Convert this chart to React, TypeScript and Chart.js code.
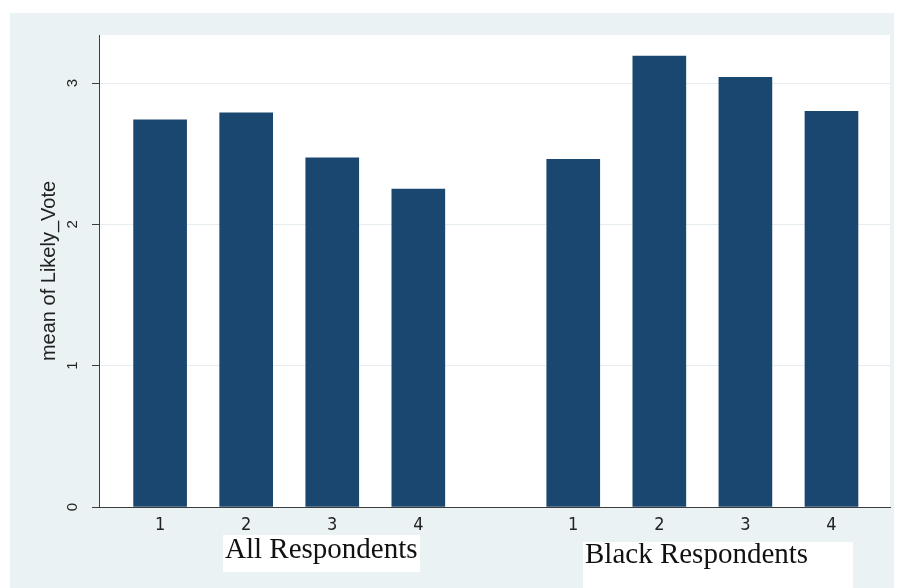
import React, { useEffect, useRef } from "react";
import { Chart, registerables } from "chart.js";

Chart.register(...registerables);

const groupLabels = ["All Respondents", "Black Respondents"];
const categories = ["1", "2", "3", "4"];
const allValues = [2.74, 2.79, 2.47, 2.25];
const blackValues = [2.46, 3.19, 3.04, 2.8];
const allPositions = [1, 2, 3, 4];
const blackPositions = [5.8, 6.8, 7.8, 8.8];
const yTicks = [0, 1, 2, 3];
const yTitle = "mean of Likely_Vote";

const BAR = "#1a476f";
const BG = "#eaf2f3";

const bgPlugin = {
  id: "stataBg",
  beforeDraw(chart: any) {
    const { ctx, chartArea } = chart;
    ctx.save();
    ctx.fillStyle = "#ffffff";
    ctx.fillRect(0, 0, chart.width, chart.height);
    ctx.fillStyle = BG;
    ctx.fillRect(10, 13, 884, chart.height - 13);
    ctx.fillStyle = "#ffffff";
    ctx.fillRect(chartArea.left, chartArea.top, chartArea.right - chartArea.left, chartArea.bottom - chartArea.top);
    ctx.restore();
  },
};

const groupLabelPlugin = {
  id: "groupLabels",
  afterDraw(chart: any) {
    const { ctx } = chart;
    ctx.save();
    ctx.fillStyle = "#ffffff";
    ctx.fillRect(223, 535, 197, 37);
    ctx.fillRect(583, 542, 270, 46);
    ctx.fillStyle = "#111111";
    ctx.font = "29px 'Liberation Serif', 'Times New Roman', serif";
    ctx.textBaseline = "alphabetic";
    ctx.textAlign = "left";
    ctx.fillText(groupLabels[0], 225, 558);
    ctx.fillText(groupLabels[1], 585, 563);
    ctx.restore();
  },
};

export default function App() {
  const ref = useRef<HTMLCanvasElement | null>(null);

  useEffect(() => {
    if (!ref.current) return;
    const xTickPositions = [...allPositions, ...blackPositions];
    const xTickLabels = [...categories, ...categories];
    const chart = new Chart(ref.current, {
      type: "bar",
      data: {
        datasets: [
          {
            label: groupLabels[0],
            data: allPositions.map((x, i) => ({ x, y: allValues[i] })),
            backgroundColor: BAR,
            borderWidth: 0,
            barThickness: 53,
            grouped: false,
          } as any,
          {
            label: groupLabels[1],
            data: blackPositions.map((x, i) => ({ x, y: blackValues[i] })),
            backgroundColor: BAR,
            borderWidth: 0,
            barThickness: 53,
            grouped: false,
          } as any,
        ],
      },
      options: {
        responsive: false,
        animation: false,
        layout: { padding: { top: 35, right: 14, left: 0, bottom: 0 } },
        plugins: {
          legend: { display: false },
          tooltip: { enabled: false },
        },
        scales: {
          x: {
            type: "linear",
            offset: false,
            min: 0.29,
            max: 9.48,
            afterBuildTicks: (scale: any) => {
              scale.ticks = xTickPositions.map((v) => ({ value: v }));
            },
            afterFit: (scale: any) => {
              scale.height = 81;
            },
            grid: { display: false, drawTicks: false, offset: false },
            border: { display: true, color: "#3c3c3c", width: 1 },
            ticks: {
              autoSkip: false,
              maxRotation: 0,
              minRotation: 0,
              padding: 8,
              color: "#222222",
              font: { family: "'Liberation Sans Narrow', 'DejaVu Sans Condensed', 'Liberation Sans', Arial, sans-serif", size: 18 },
              callback: (_v: any, i: number) => xTickLabels[i],
            },
          },
          y: {
            type: "linear",
            min: 0,
            max: 3.34,
            afterBuildTicks: (scale: any) => {
              scale.ticks = yTicks.map((v) => ({ value: v }));
            },
            afterFit: (scale: any) => {
              scale.width = 99;
            },
            grid: {
              color: "#e6edef",
              tickColor: "#3c3c3c",
              tickLength: 7,
              drawTicks: true,
            },
            border: { display: true, color: "#3c3c3c", width: 1 },
            title: {
              display: true,
              text: yTitle,
              color: "#222222",
              font: { family: "'Liberation Sans', Arial, sans-serif", size: 20 },
              padding: { top: 37, bottom: 0 },
            },
            ticks: {
              autoSkip: false,
              minRotation: 90,
              maxRotation: 90,
              crossAlign: "center",
              padding: 15,
              color: "#222222",
              font: { family: "'Liberation Sans', Arial, sans-serif", size: 15 },
              callback: (v: any) => String(v),
            },
          },
        },
      } as any,
      plugins: [bgPlugin, groupLabelPlugin],
    });
    return () => chart.destroy();
  }, []);

  return (
    <div style={{ position: "absolute", left: 0, top: 0, width: 904, height: 588 }}>
      <canvas ref={ref} width={904} height={588} style={{ display: "block" }} />
    </div>
  );
}
